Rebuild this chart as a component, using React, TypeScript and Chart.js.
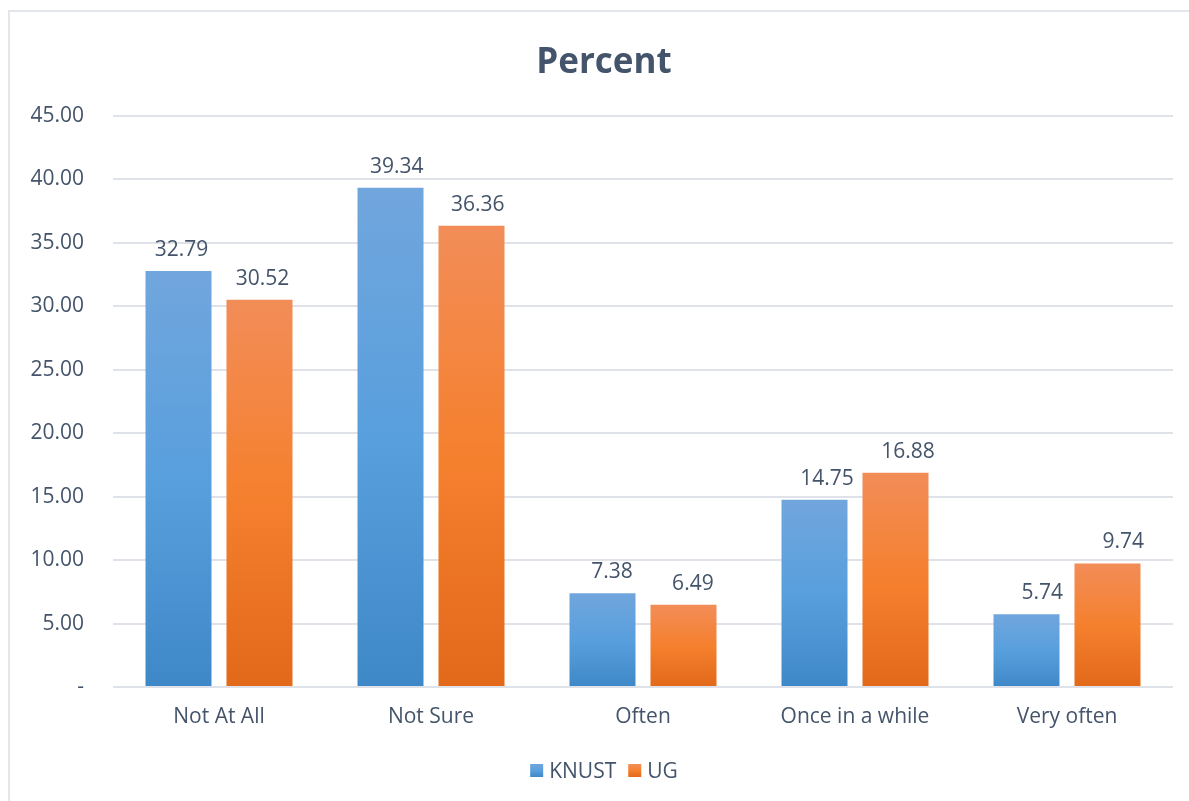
import React, { useEffect, useRef } from "react";
import { Chart, registerables } from "chart.js";

Chart.register(...registerables);

const categories = ["Not At All", "Not Sure", "Often", "Once in a while", "Very often"];
const knust = [32.79, 39.34, 7.38, 14.75, 5.74];
const ug = [30.52, 36.36, 6.49, 16.88, 9.74];
const seriesNames = ["KNUST", "UG"];
const yTicksMax = 45;
const yTicksStep = 5;
const titleText = "Percent";

const FONT = "'Open Sans', 'Noto Sans', sans-serif";
const TEXT = "#44546A";
const GRID = "#DFE3E9";

const gradStops = [
  ["#71A6DD", "#589FDD", "#3F88C7"],
  ["#F28D58", "#F5802E", "#E2691A"],
];

function makeGradient(c: CanvasRenderingContext2D, top: number, bottom: number, stops: string[]) {
  const g = c.createLinearGradient(0, top, 0, bottom);
  g.addColorStop(0, stops[0]);
  g.addColorStop(0.5, stops[1]);
  g.addColorStop(1, stops[2]);
  return g;
}

function barColor(seriesIdx: number) {
  return (ctx: any) => {
    const chart = ctx.chart;
    const y = chart.scales && chart.scales.y;
    if (!chart.chartArea || !y || ctx.type !== "data") return gradStops[seriesIdx][1];
    const top = y.getPixelForValue(ctx.raw);
    const bottom = y.getPixelForValue(0);
    return makeGradient(chart.ctx, top, bottom, gradStops[seriesIdx]);
  };
}

const overlayPlugin = {
  id: "overlay",
  afterDraw(chart: any) {
    const c: CanvasRenderingContext2D = chart.ctx;
    c.save();
    // outer frame
    c.strokeStyle = "#E3E6EB";
    c.lineWidth = 2;
    c.beginPath();
    c.moveTo(9, 801);
    c.lineTo(9, 11);
    c.lineTo(1189, 11);
    c.stroke();

    // title
    c.fillStyle = TEXT;
    c.font = `bold 35px ${FONT}`;
    c.textAlign = "center";
    c.textBaseline = "alphabetic";
    c.fillText(titleText, 604, 73);

    // data labels
    c.font = `21px ${FONT}`;
    chart.data.datasets.forEach((ds: any, di: number) => {
      const meta = chart.getDatasetMeta(di);
      meta.data.forEach((bar: any, i: number) => {
        const v = ds.data[i];
        const shift = 3 + 3.2 * i;
        c.fillText(v.toFixed(2), bar.x + shift, bar.y - 15);
      });
    });

    // legend
    c.font = `21px ${FONT}`;
    c.textAlign = "left";
    const box = 13;
    const gapText = 6;
    const gapItem = 12;
    const widths = seriesNames.map((n) => c.measureText(n).width);
    let total = 0;
    widths.forEach((w, i) => {
      total += box + gapText + w + (i < widths.length - 1 ? gapItem : 0);
    });
    let x = 604 - total / 2;
    const boxTop = 764;
    seriesNames.forEach((n, i) => {
      c.fillStyle = makeGradient(c, boxTop, boxTop + box, gradStops[i]);
      c.fillRect(x, boxTop, box, box);
      x += box + gapText;
      c.fillStyle = TEXT;
      c.fillText(n, x, 778);
      x += widths[i] + gapItem;
    });
    c.restore();
  },
};

export default function App() {
  const ref = useRef<HTMLCanvasElement | null>(null);
  useEffect(() => {
    if (!ref.current) return;
    const chart = new Chart(ref.current, {
      type: "bar",
      data: {
        labels: categories,
        datasets: [
          {
            label: seriesNames[0],
            data: knust,
            backgroundColor: barColor(0),
            categoryPercentage: 0.764,
            barPercentage: 0.815,
          },
          {
            label: seriesNames[1],
            data: ug,
            backgroundColor: barColor(1),
            categoryPercentage: 0.764,
            barPercentage: 0.815,
          },
        ],
      },
      options: {
        responsive: false,
        animation: false,
        layout: { padding: { left: 0, right: 16, top: 116, bottom: 0 } },
        plugins: {
          legend: { display: false },
          title: { display: false },
          tooltip: { enabled: false },
        },
        scales: {
          x: {
            grid: { display: false, drawTicks: false },
            border: { display: false },
            ticks: {
              color: TEXT,
              font: { family: FONT, size: 21 },
              padding: 17,
              maxRotation: 0,
            },
            afterFit: (s: any) => {
              s.height = 114;
            },
          },
          y: {
            z: 1,
            min: 0,
            max: yTicksMax,
            grid: { color: GRID, lineWidth: 2, drawTicks: false },
            border: { display: false },
            ticks: {
              stepSize: yTicksStep,
              color: TEXT,
              font: { family: FONT, size: 21 },
              padding: 29,
              callback: (v: any) => (Number(v) === 0 ? "-" : Number(v).toFixed(2)),
            },
            afterFit: (s: any) => {
              s.width = 113;
            },
          },
        },
      },
      plugins: [overlayPlugin],
    });
    return () => chart.destroy();
  }, []);
  return (
    <div style={{ position: "absolute", left: 0, top: 0, width: 1189, height: 801, background: "#fff" }}>
      <canvas ref={ref} width={1189} height={801} style={{ display: "block" }} />
    </div>
  );
}
